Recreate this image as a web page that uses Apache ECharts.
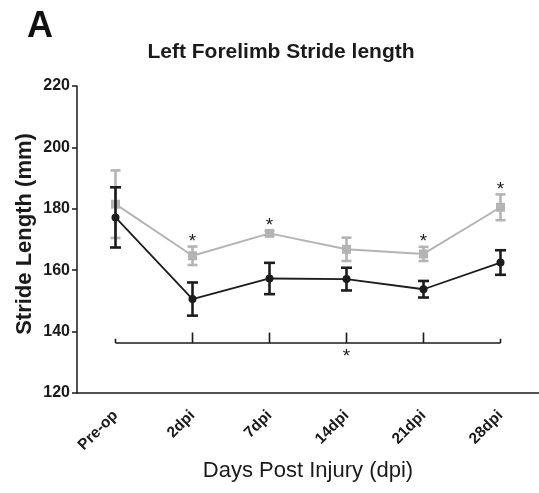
<!DOCTYPE html>
<html><head><meta charset="utf-8">
<script src="https://cdn.jsdelivr.net/npm/echarts@6/dist/echarts.min.js"></script>
<style>html,body{margin:0;padding:0;background:#fff}#c{width:539px;height:493px}</style>
</head><body><div id="c"></div>
<script>
const categories = ['Pre-op','2dpi','7dpi','14dpi','21dpi','28dpi'];
const grayMean = [181.5, 164.7, 172.0, 166.8, 165.3, 180.5];
const grayErr  = [11.0, 3.0, 0.8, 3.8, 2.3, 4.2];
const blackMean = [177.2, 150.6, 157.3, 157.1, 153.8, 162.5];
const blackErr  = [9.8, 5.4, 5.1, 3.7, 2.7, 4.0];
const starCats = ['2dpi','7dpi','21dpi','28dpi'];
const bracketLevel = 136.3;
const bracketTickTop = 139.7;
const yTicks = [120, 140, 160, 180, 200, 220];

const FONT = 'Liberation Sans, Arial, sans-serif';
const GRAY = '#b4b4b4';
const BLACK = '#1c1c1c';

function errSeries(mean, err, color, z, w) {
  return {
    type: 'custom', z: z, silent: true,
    data: categories.map((c, i) => [i, mean[i] - err[i], mean[i] + err[i]]),
    renderItem: function (params, api) {
      const lo = api.coord([api.value(0), api.value(1)]);
      const hi = api.coord([api.value(0), api.value(2)]);
      const st = { stroke: color, lineWidth: 2.6 };
      return { type: 'group', children: [
        { type: 'line', shape: { x1: hi[0], y1: hi[1], x2: lo[0], y2: lo[1] }, style: st },
        { type: 'line', shape: { x1: hi[0] - w, y1: hi[1], x2: hi[0] + w, y2: hi[1] }, style: st },
        { type: 'line', shape: { x1: lo[0] - w, y1: lo[1], x2: lo[0] + w, y2: lo[1] }, style: st }
      ]};
    }
  };
}

const chart = echarts.init(document.getElementById('c'));
chart.setOption({
  animation: false,
  backgroundColor: '#fff',
  title: [
    { text: 'A', left: 22, top: 4, textStyle: { fontFamily: FONT, fontSize: 36, fontWeight: 'bold', color: '#111' } },
    { text: 'Left Forelimb Stride length', left: 276, top: 37, textAlign: 'center',
      textStyle: { fontFamily: FONT, fontSize: 21, fontWeight: 'bold', color: '#1a1a1a' } }
  ],
  graphic: [
    { type: 'text', x: 25, y: 234, rotation: Math.PI / 2, z: 10,
      style: { text: 'Stride Length (mm)', fontFamily: FONT, fontSize: 22, fontWeight: 'bold', fill: '#1a1a1a',
               align: 'center', verticalAlign: 'middle' } }
  ],
  grid: { left: 77, right: 0, top: 86, bottom: 100, containLabel: false, outerBoundsMode: 'none' },
  xAxis: {
    type: 'category', data: categories, boundaryGap: true,
    name: 'Days Post Injury (dpi)', nameLocation: 'middle', nameGap: 66,
    nameTextStyle: { fontFamily: FONT, fontSize: 22, color: '#1a1a1a' },
    axisLine: { lineStyle: { color: '#1a1a1a', width: 1.5 } },
    axisTick: { alignWithLabel: true, length: 5, lineStyle: { color: '#1a1a1a', width: 1.5 } },
    axisLabel: { rotate: 45, margin: 20, fontFamily: FONT, fontSize: 15.5, fontWeight: 'bold', color: '#1a1a1a' },
    splitLine: { show: false }
  },
  yAxis: {
    type: 'value', min: yTicks[0], max: yTicks[yTicks.length - 1], interval: 20,
    axisLine: { show: true, lineStyle: { color: '#1a1a1a', width: 1.5 } },
    axisTick: { show: true, length: 5, lineStyle: { color: '#1a1a1a', width: 1.5 } },
    axisLabel: { margin: 7, fontFamily: FONT, fontSize: 16, fontWeight: 'bold', color: '#1a1a1a' },
    splitLine: { show: false }
  },
  series: [
    { type: 'line', data: grayMean, symbol: 'rect', symbolSize: 9, z: 3,
      itemStyle: { color: GRAY }, lineStyle: { color: GRAY, width: 2 } },
    errSeries(grayMean, grayErr, GRAY, 2, 5),
    { type: 'line', data: blackMean, symbol: 'circle', symbolSize: 8, z: 5,
      itemStyle: { color: BLACK }, lineStyle: { color: BLACK, width: 1.8 } },
    errSeries(blackMean, blackErr, BLACK, 4, 5.5),
    { type: 'custom', z: 6, silent: true,
      data: starCats.map(c => { const i = categories.indexOf(c); return [i, grayMean[i] + grayErr[i]]; }),
      renderItem: function (params, api) {
        const p = api.coord([api.value(0), api.value(1)]);
        return { type: 'text', x: p[0], y: p[1] - 5,
          style: { text: '*', fontFamily: FONT, fontSize: 19, fill: '#1a1a1a', align: 'center', verticalAlign: 'middle' } };
      }
    },
    { type: 'custom', z: 6, silent: true,
      data: [[0, bracketLevel, bracketTickTop]],
      renderItem: function (params, api) {
        const n = categories.length;
        const a = api.coord([0, api.value(1)]);
        const b = api.coord([n - 1, api.value(1)]);
        const st = { stroke: '#1a1a1a', lineWidth: 1.6 };
        const kids = [{ type: 'line', shape: { x1: a[0], y1: a[1], x2: b[0], y2: b[1] }, style: st }];
        for (let i = 0; i < n; i++) {
          const lo = api.coord([i, api.value(1)]);
          const hi = api.coord([i, (i === 0 || i === n - 1) ? (api.value(1) * 0.6 + api.value(2) * 0.4) : api.value(2)]);
          kids.push({ type: 'line', shape: { x1: lo[0], y1: lo[1], x2: hi[0], y2: hi[1] }, style: st });
        }
        const mid = api.coord([(n - 1) / 2, api.value(1)]);
        kids.push({ type: 'text', x: mid[0], y: mid[1] + 14,
          style: { text: '*', fontFamily: FONT, fontSize: 19, fill: '#1a1a1a', align: 'center', verticalAlign: 'middle' } });
        return { type: 'group', children: kids };
      }
    }
  ]
});
</script></body></html>
